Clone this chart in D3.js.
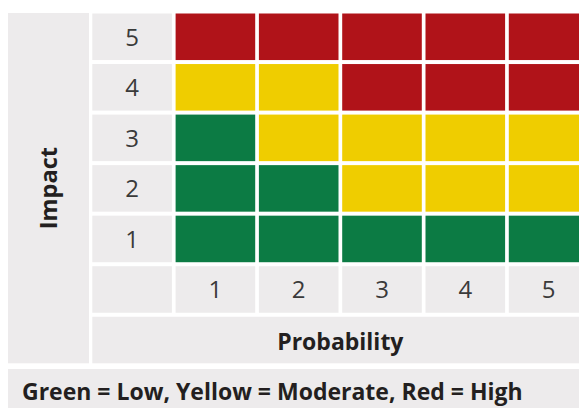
<!DOCTYPE html>
<html>
<head>
<meta charset="utf-8">
<script src="https://cdn.jsdelivr.net/npm/d3@7"></script>
<style>
  body { margin: 0; background: #fff; overflow: hidden; }
  text { font-family: "Open Sans", sans-serif; }
</style>
</head>
<body>
<svg id="chart"></svg>
<script>
// risk matrix: impact rows (top to bottom) x probability columns
const impactLevels = ['5', '4', '3', '2', '1'];
const probabilityLevels = ['1', '2', '3', '4', '5'];
const riskGrid = [
  ['High', 'High', 'High', 'High', 'High'],
  ['Moderate', 'Moderate', 'High', 'High', 'High'],
  ['Low', 'Moderate', 'Moderate', 'Moderate', 'Moderate'],
  ['Low', 'Low', 'Moderate', 'Moderate', 'Moderate'],
  ['Low', 'Low', 'Low', 'Low', 'Low']
];
const riskLabels = ['Low', 'Moderate', 'High'];
const riskColors = ['#0c7b44', '#efcd00', '#b01319'];
const legendText = 'Green = Low, Yellow = Moderate, Red = High';

const W = 579, H = 408;
const grey = '#edebec';

const svg = d3.select('#chart')
  .attr('width', W)
  .attr('height', H);

const color = d3.scaleOrdinal().domain(riskLabels).range(riskColors);

const x = d3.scaleBand()
  .domain(['lab'].concat(probabilityLevels))
  .range([92.3, 92.3 + 6 * 83.3 - 3.7])
  .paddingInner(3.7 / 83.3);

const y = d3.scaleBand()
  .domain(impactLevels.concat(['lab', 'title']))
  .range([13.5, 363.3])
  .paddingInner(4 / 50.6);

// left panel for the Impact title
svg.append('rect')
  .attr('x', 8).attr('y', 13)
  .attr('width', 81).attr('height', 350.3)
  .attr('fill', grey);

svg.append('text')
  .attr('transform', `translate(57,${13 + 350.3 / 2}) rotate(-90)`)
  .attr('text-anchor', 'middle')
  .attr('font-size', 23.5)
  .attr('font-weight', 700)
  .attr('fill', '#231f20')
  .text('Impact');

// row labels
impactLevels.forEach(d => {
  svg.append('rect')
    .attr('x', x('lab')).attr('y', y(d))
    .attr('width', x.bandwidth()).attr('height', y.bandwidth())
    .attr('fill', grey);
  svg.append('text')
    .attr('x', x('lab') + x.bandwidth() / 2)
    .attr('y', y(d) + y.bandwidth() / 2 + 9)
    .attr('text-anchor', 'middle')
    .attr('font-size', 24)
    .attr('fill', '#3a3a3a')
    .text(d);
});

// cells
impactLevels.forEach((imp, i) => {
  probabilityLevels.forEach((p, j) => {
    svg.append('rect')
      .attr('x', x(p)).attr('y', y(imp))
      .attr('width', x.bandwidth()).attr('height', y.bandwidth())
      .attr('fill', color(riskGrid[i][j]));
  });
});

// column labels
svg.append('rect')
  .attr('x', x('lab')).attr('y', y('lab'))
  .attr('width', x.bandwidth()).attr('height', y.bandwidth())
  .attr('fill', grey);

probabilityLevels.forEach(p => {
  svg.append('rect')
    .attr('x', x(p)).attr('y', y('lab'))
    .attr('width', x.bandwidth()).attr('height', y.bandwidth())
    .attr('fill', grey);
  svg.append('text')
    .attr('x', x(p) + x.bandwidth() / 2)
    .attr('y', y('lab') + y.bandwidth() / 2 + 9)
    .attr('text-anchor', 'middle')
    .attr('font-size', 24)
    .attr('fill', '#3a3a3a')
    .text(p);
});

// Probability title row
const rowX0 = x('lab'), rowX1 = x('5') + x.bandwidth();
svg.append('rect')
  .attr('x', rowX0).attr('y', y('title'))
  .attr('width', rowX1 - rowX0).attr('height', y.bandwidth())
  .attr('fill', grey);

svg.append('text')
  .attr('x', (rowX0 + rowX1) / 2)
  .attr('y', 350)
  .attr('text-anchor', 'middle')
  .attr('font-size', 23)
  .attr('font-weight', 700)
  .attr('fill', '#231f20')
  .text('Probability');

// legend footer
svg.append('rect')
  .attr('x', 8).attr('y', 369)
  .attr('width', W).attr('height', 50)
  .attr('fill', grey);

svg.append('text')
  .attr('x', 22)
  .attr('y', 400)
  .attr('font-size', 23)
  .attr('font-weight', 700)
  .attr('fill', '#231f20')
  .text(legendText);
</script>
</body>
</html>
